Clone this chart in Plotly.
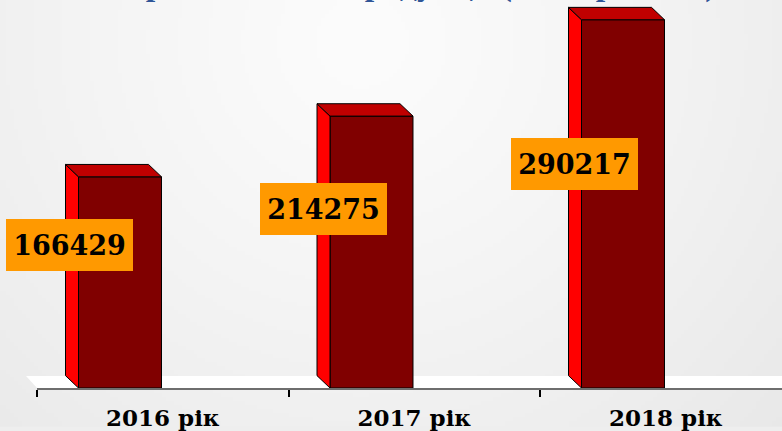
import base64
import struct
import zlib

import numpy as np
import plotly.graph_objects as go

# ---------------- data ----------------
categories = ["2016 рік", "2017 рік", "2018 рік"]
values = [166429, 214275, 290217]
value_labels = ["166429", "214275", "290217"]
title_text = "Обсяг реалізованої продукції (тис. гривень)"

# ---------------- layout constants ----------------
W, H = 782, 431
ML, MB = 37, 39
PLOT_W = W - ML
PLOT_H = H - MB
CAT_PX = 251.5            # pixel width of one category slot
PX_PER_UNIT = 0.001282    # pixels per value unit
X_MAX = PLOT_W / CAT_PX
Y_MAX = PLOT_H / PX_PER_UNIT
BAR_W = 0.33
BAR_OFF = 0.33
DEPTH_X = 13 / CAT_PX
DEPTH_Y = 12.5 / PX_PER_UNIT
LABEL_DROP = [68, 93, 144]
LABEL_SHIFT_X = [-9.5, -6.5, -7.5]

FRONT = "#800000"
SIDE = "#FF0000"
TOP = "#C00000"
LABEL_BG = "#FF9900"


def png_data_uri(arr):
    h, w = arr.shape
    raw = b"".join(b"\x00" + bytes(np.repeat(arr[j], 3).astype(np.uint8)) for j in range(h))

    def chunk(tag, data):
        c = struct.pack(">I", len(data)) + tag + data
        return c + struct.pack(">I", zlib.crc32(tag + data) & 0xFFFFFFFF)

    png = (b"\x89PNG\r\n\x1a\n"
           + chunk(b"IHDR", struct.pack(">IIBBBBB", w, h, 8, 2, 0, 0, 0))
           + chunk(b"IDAT", zlib.compress(raw, 9))
           + chunk(b"IEND", b""))
    return "data:image/png;base64," + base64.b64encode(png).decode()


# background gradient
gw, gh = 196, 108
yy, xx = np.mgrid[0:gh, 0:gw]
px = xx * W / gw
py = yy * H / gh
r = np.sqrt((px - 360) ** 2 + (py - 40) ** 2) / 640
bg = np.clip(252 - 22 * np.clip(r, 0, 1.2) ** 1.2, 0, 255)
bg_uri = png_data_uri(bg)

fig = go.Figure()

xpos = np.arange(len(categories)) + BAR_OFF
for i, (xc, v) in enumerate(zip(xpos, values)):
    xl = xc - BAR_W / 2
    xr = xc + BAR_W / 2
    # side face
    fig.add_trace(go.Scatter(
        x=[xl, xl - DEPTH_X, xl - DEPTH_X, xl, xl],
        y=[0, DEPTH_Y, v + DEPTH_Y, v, 0],
        mode="lines", fill="toself", fillcolor=SIDE,
        line=dict(color="black", width=1), hoverinfo="skip", showlegend=False,
    ))
    # top face
    fig.add_trace(go.Scatter(
        x=[xl, xl - DEPTH_X, xr - DEPTH_X, xr, xl],
        y=[v, v + DEPTH_Y, v + DEPTH_Y, v, v],
        mode="lines", fill="toself", fillcolor=TOP,
        line=dict(color="black", width=1), hoverinfo="skip", showlegend=False,
    ))

fig.add_trace(go.Bar(
    x=xpos, y=values, width=BAR_W,
    marker=dict(color=FRONT, line=dict(color="black", width=1)),
    showlegend=False, hoverinfo="skip",
))

annotations = []
for i, (xc, v, lab) in enumerate(zip(xpos, values, value_labels)):
    annotations.append(dict(
        x=xc - BAR_W / 2, y=v, xref="x", yref="y",
        text=lab, showarrow=False,
        xanchor="center", yanchor="middle",
        xshift=LABEL_SHIFT_X[i], yshift=-LABEL_DROP[i],
        bgcolor=LABEL_BG, borderpad=3, borderwidth=0,
        width=121, height=46,
        font=dict(family="DejaVu Serif", size=27, color="black", weight="bold"),
    ))

annotations.append(dict(
    x=(380 - ML) / PLOT_W, y=1, xref="paper", yref="paper",
    text=title_text, showarrow=False, xanchor="center", yanchor="bottom",
    yshift=-5,
    font=dict(family="Liberation Serif", size=34, color="#2F5597", weight="bold"),
))

floor_dx = 11 / PLOT_W
floor_dy = 12 / PLOT_H
shapes = [dict(
    type="path", xref="paper", yref="paper",
    path=(f"M {-floor_dx} {floor_dy} L {1.0} {floor_dy} L {1.0} 0 L 0 0 Z"),
    fillcolor="white", line=dict(width=0), layer="below",
)]

fig.update_layout(
    width=W, height=H,
    margin=dict(l=ML, r=0, t=0, b=MB, pad=0),
    paper_bgcolor="#EEEEEE",
    plot_bgcolor="rgba(0,0,0,0)",
    showlegend=False,
    annotations=annotations,
    shapes=shapes,
    images=[dict(
        source=bg_uri, xref="paper", yref="paper",
        x=-ML / PLOT_W, y=1, sizex=W / PLOT_W, sizey=H / PLOT_H,
        xanchor="left", yanchor="top", sizing="stretch", layer="below",
    )],
    xaxis=dict(
        range=[0, X_MAX], tickvals=[0.5, 1.5, 2.5], ticktext=categories,
        ticks="", showline=True, linecolor="#6E6E6E", linewidth=2,
        showgrid=False, zeroline=False,
        tickfont=dict(family="DejaVu Serif", size=23, color="black", weight="bold"),
        ticklabelstandoff=8, fixedrange=True,
        minor=dict(tickvals=[0, 1, 2], ticks="outside", ticklen=7,
                   tickwidth=1.5, tickcolor="black", showgrid=False),
    ),
    yaxis=dict(range=[0, Y_MAX], visible=False, fixedrange=True),
)

fig.write_html(
    "out.html",
    config={"displayModeBar": False},
    post_script="document.body.style.margin='0';document.body.style.overflow='hidden';",
)
